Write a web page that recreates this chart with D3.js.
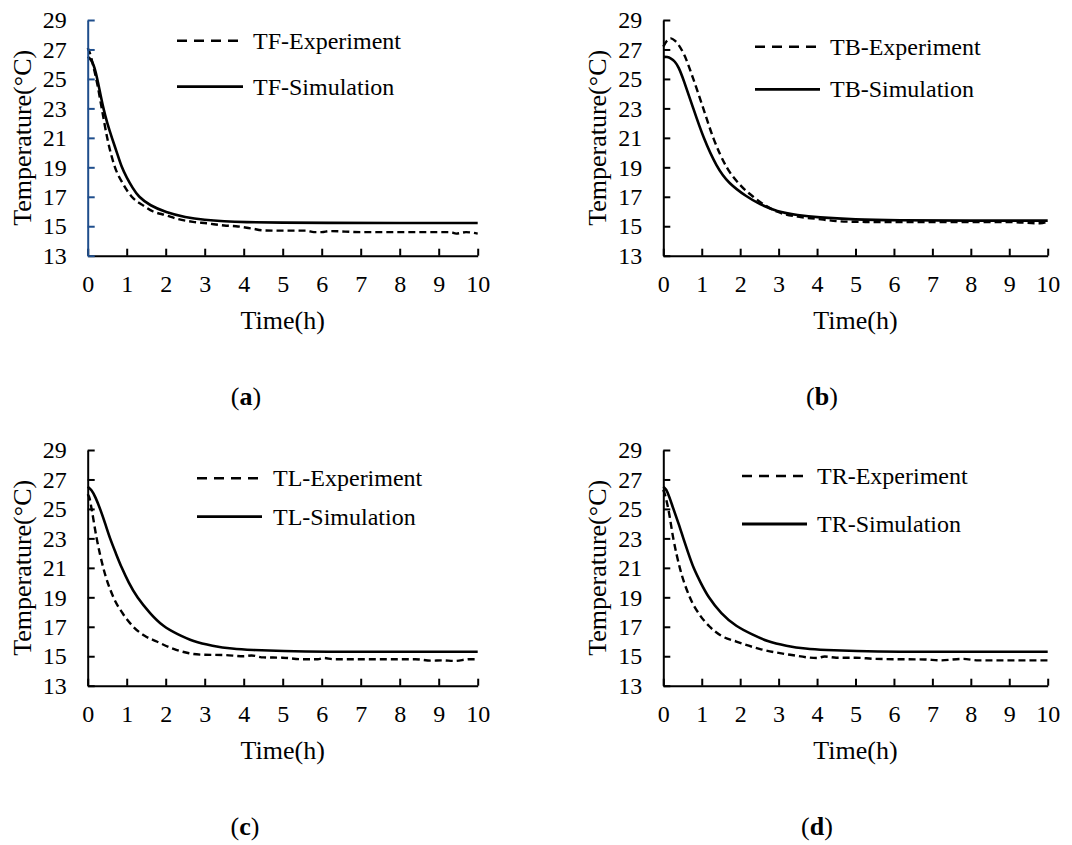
<!DOCTYPE html>
<html>
<head>
<meta charset="utf-8">
<script src="https://cdn.jsdelivr.net/npm/d3@7"></script>
<style>
html,body{margin:0;padding:0;background:#fff;}
svg{display:block;}
text{font-family:"Liberation Serif","Times New Roman",serif;fill:#000;}
</style>
</head>
<body>
<svg id="chart" width="1072" height="845"></svg>
<script>
// ---- data ----
const xTicks = [0,1,2,3,4,5,6,7,8,9,10];
const yTicks = [13,15,17,19,21,23,25,27,29];

const timeA_exp = [0,0.05,0.15,0.25,0.36,0.5,0.7,0.9,1.13,1.4,1.68,2.0,2.3,2.7,3.05,3.5,3.8,4.2,4.5,5.0,5.6,5.8,6.0,6.2,7,8,9,9.3,9.45,9.7,10];
const valsA_exp = [27.1,26.8,25.8,24.6,23.0,21.0,19.0,17.9,17.0,16.45,16.0,15.75,15.5,15.3,15.2,15.05,15.0,14.85,14.72,14.7,14.7,14.6,14.6,14.67,14.6,14.6,14.6,14.6,14.5,14.6,14.5];
const timeA_sim = [0,0.1,0.2,0.3,0.4,0.5,0.62,0.75,0.87,1.0,1.15,1.3,1.6,2.0,2.5,3.0,3.5,4.0,5.0,6.0,8.0,10];
const valsA_sim = [26.5,26.3,25.6,24.3,23.0,22.0,21.0,20.0,19.0,18.3,17.6,17.0,16.4,15.95,15.6,15.42,15.33,15.28,15.24,15.23,15.22,15.22];

const timeB_exp = [0,0.1,0.2,0.3,0.4,0.55,0.78,1.04,1.3,1.65,2.0,2.34,2.95,3.5,4.0,4.5,5.0,6,7,8,9,9.8,10];
const valsB_exp = [27.2,27.6,27.75,27.6,27.3,26.6,25.0,23.0,21.0,19.0,17.8,17.0,16.0,15.65,15.5,15.35,15.3,15.28,15.28,15.28,15.28,15.2,15.3];
const timeB_sim = [0,0.1,0.2,0.3,0.4,0.52,0.78,1.04,1.39,1.7,2.17,2.5,2.95,3.5,4,5,6,8,10];
const valsB_sim = [26.5,26.5,26.4,26.2,25.8,25.0,23.0,21.0,19.0,17.9,17.0,16.5,16.0,15.75,15.6,15.45,15.4,15.38,15.38];

const timeC_exp = [0,0.05,0.1,0.23,0.4,0.66,0.9,1.17,1.45,1.77,2.2,2.6,3.0,3.5,4.0,4.2,4.5,5.0,5.5,5.9,6.05,6.3,7,8,8.4,8.8,9.1,9.4,9.8,10];
const valsC_exp = [26.0,25.7,25.0,23.0,21.0,19.0,17.9,17.0,16.4,16.0,15.5,15.2,15.1,15.08,15.0,15.05,14.92,14.9,14.8,14.8,14.88,14.8,14.8,14.8,14.8,14.7,14.72,14.68,14.8,14.8];
const timeC_sim = [0,0.1,0.2,0.32,0.45,0.57,0.72,0.87,1.05,1.26,1.6,1.94,2.3,2.7,3.2,3.7,4.2,5,6,8,10];
const valsC_sim = [26.5,26.3,25.8,25.0,24.0,23.0,22.0,21.0,20.0,19.0,17.9,17.0,16.5,16.0,15.7,15.5,15.42,15.35,15.3,15.3,15.3];

const timeD_exp = [0,0.05,0.13,0.26,0.43,0.69,0.95,1.21,1.5,1.9,2.5,3.3,4.0,4.2,4.5,5.0,5.5,6.0,6.8,7.2,7.8,8.2,9,10];
const valsD_exp = [26.3,25.9,25.0,23.0,21.0,19.0,17.8,17.0,16.4,16.0,15.5,15.1,14.88,14.98,14.9,14.9,14.82,14.8,14.78,14.72,14.82,14.72,14.72,14.72];
const timeD_sim = [0,0.1,0.26,0.4,0.52,0.65,0.78,0.97,1.17,1.5,1.9,2.3,2.7,3.2,3.7,4.2,5,6,8,10];
const valsD_sim = [26.5,26.3,25.0,24.0,23.0,22.0,21.0,20.0,19.0,17.9,17.0,16.5,16.0,15.7,15.5,15.42,15.35,15.3,15.3,15.3];

const panelNames = ["TF","TB","TL","TR"];
const panelLetters = ["a","b","c","d"];
const yTitle = "Temperature(\u00B0C)";
const xTitle = "Time(h)";

// ---- layout ----
const panels = [
  {name:panelNames[0], letter:panelLetters[0], tE:timeA_exp, vE:valsA_exp, tS:timeA_sim, vS:valsA_sim,
   left:87.7, right:477.7, top:20, bottom:255.7, yAxisColor:"#1f4e8c",
   leg:{x1:177, x2:243, tx:253, yE:40.7, yS:86.7}, labelX:246},
  {name:panelNames[1], letter:panelLetters[1], tE:timeB_exp, vE:valsB_exp, tS:timeB_sim, vS:valsB_sim,
   left:663.3, right:1047.7, top:20, bottom:255.7, yAxisColor:"#000",
   leg:{x1:755, x2:820, tx:830, yE:46.7, yS:89.3}, labelX:822},
  {name:panelNames[2], letter:panelLetters[2], tE:timeC_exp, vE:valsC_exp, tS:timeC_sim, vS:valsC_sim,
   left:87.7, right:477.7, top:450, bottom:685.7, yAxisColor:"#000",
   leg:{x1:197, x2:262, tx:273, yE:478.3, yS:516.7}, labelX:245},
  {name:panelNames[3], letter:panelLetters[3], tE:timeD_exp, vE:valsD_exp, tS:timeD_sim, vS:valsD_sim,
   left:663.3, right:1047.7, top:450, bottom:685.7, yAxisColor:"#000",
   leg:{x1:742, x2:807, tx:817, yE:476, yS:524}, labelX:817}
];

const svg = d3.select("#chart");

panels.forEach(p => {
  const x = d3.scaleLinear().domain([0,10]).range([p.left, p.right]);
  const y = d3.scaleLinear().domain([13,29]).range([p.bottom, p.top]);
  const g = svg.append("g");

  // curves
  const lineE = d3.line().x(d=>x(d[0])).y(d=>y(d[1])).curve(d3.curveMonotoneX);
  const lineS = d3.line().x(d=>x(d[0])).y(d=>y(d[1])).curve(d3.curveBasis);
  const expData = p.tE.map((t,i)=>[t,p.vE[i]]);
  const simData = p.tS.map((t,i)=>[t,p.vS[i]]);
  g.append("path").attr("d", lineE(expData)).attr("fill","none")
    .attr("stroke","#000").attr("stroke-width",2.4).attr("stroke-dasharray","7,4");
  g.append("path").attr("d", lineS(simData)).attr("fill","none")
    .attr("stroke","#000").attr("stroke-width",2.6);

  // x axis
  const xa = g.append("g").attr("transform",`translate(0,${p.bottom})`)
    .call(d3.axisBottom(x).tickValues(xTicks).tickSizeInner(-7).tickSizeOuter(0).tickPadding(19));
  xa.attr("font-family",null);
  xa.select(".domain").attr("stroke","#000").attr("stroke-width",2);
  xa.selectAll(".tick line").attr("stroke","#000").attr("stroke-width",2);
  xa.selectAll(".tick text").attr("font-size",24);

  // y axis
  const ya = g.append("g").attr("transform",`translate(${p.left},0)`)
    .call(d3.axisLeft(y).tickValues(yTicks).tickSizeInner(-7).tickSizeOuter(0).tickPadding(21));
  ya.attr("font-family",null);
  ya.select(".domain").attr("stroke",p.yAxisColor).attr("stroke-width",2);
  ya.selectAll(".tick line").attr("stroke",p.yAxisColor).attr("stroke-width",2);
  ya.selectAll(".tick text").attr("font-size",24);

  // titles
  g.append("text").attr("transform",`translate(${p.left-57},${(p.top+p.bottom)/2}) rotate(-90)`)
    .attr("text-anchor","middle").attr("font-size",26).text(yTitle);
  g.append("text").attr("x",(p.left+p.right)/2).attr("y",p.bottom+73)
    .attr("text-anchor","middle").attr("font-size",26).text(xTitle);

  // panel label
  const lab = g.append("text").attr("x",p.labelX).attr("y",p.bottom+149)
    .attr("text-anchor","middle").attr("font-size",26);
  lab.append("tspan").text("(");
  lab.append("tspan").attr("font-weight","bold").text(p.letter);
  lab.append("tspan").text(")");

  // legend
  g.append("line").attr("x1",p.leg.x1).attr("x2",p.leg.x2).attr("y1",p.leg.yE).attr("y2",p.leg.yE)
    .attr("stroke","#000").attr("stroke-width",2.6).attr("stroke-dasharray","10,7");
  g.append("text").attr("x",p.leg.tx).attr("y",p.leg.yE+8).attr("font-size",24).text(p.name+"-Experiment");
  g.append("line").attr("x1",p.leg.x1).attr("x2",p.leg.x2).attr("y1",p.leg.yS).attr("y2",p.leg.yS)
    .attr("stroke","#000").attr("stroke-width",2.8);
  g.append("text").attr("x",p.leg.tx).attr("y",p.leg.yS+8).attr("font-size",24).text(p.name+"-Simulation");
});
</script>
</body>
</html>
